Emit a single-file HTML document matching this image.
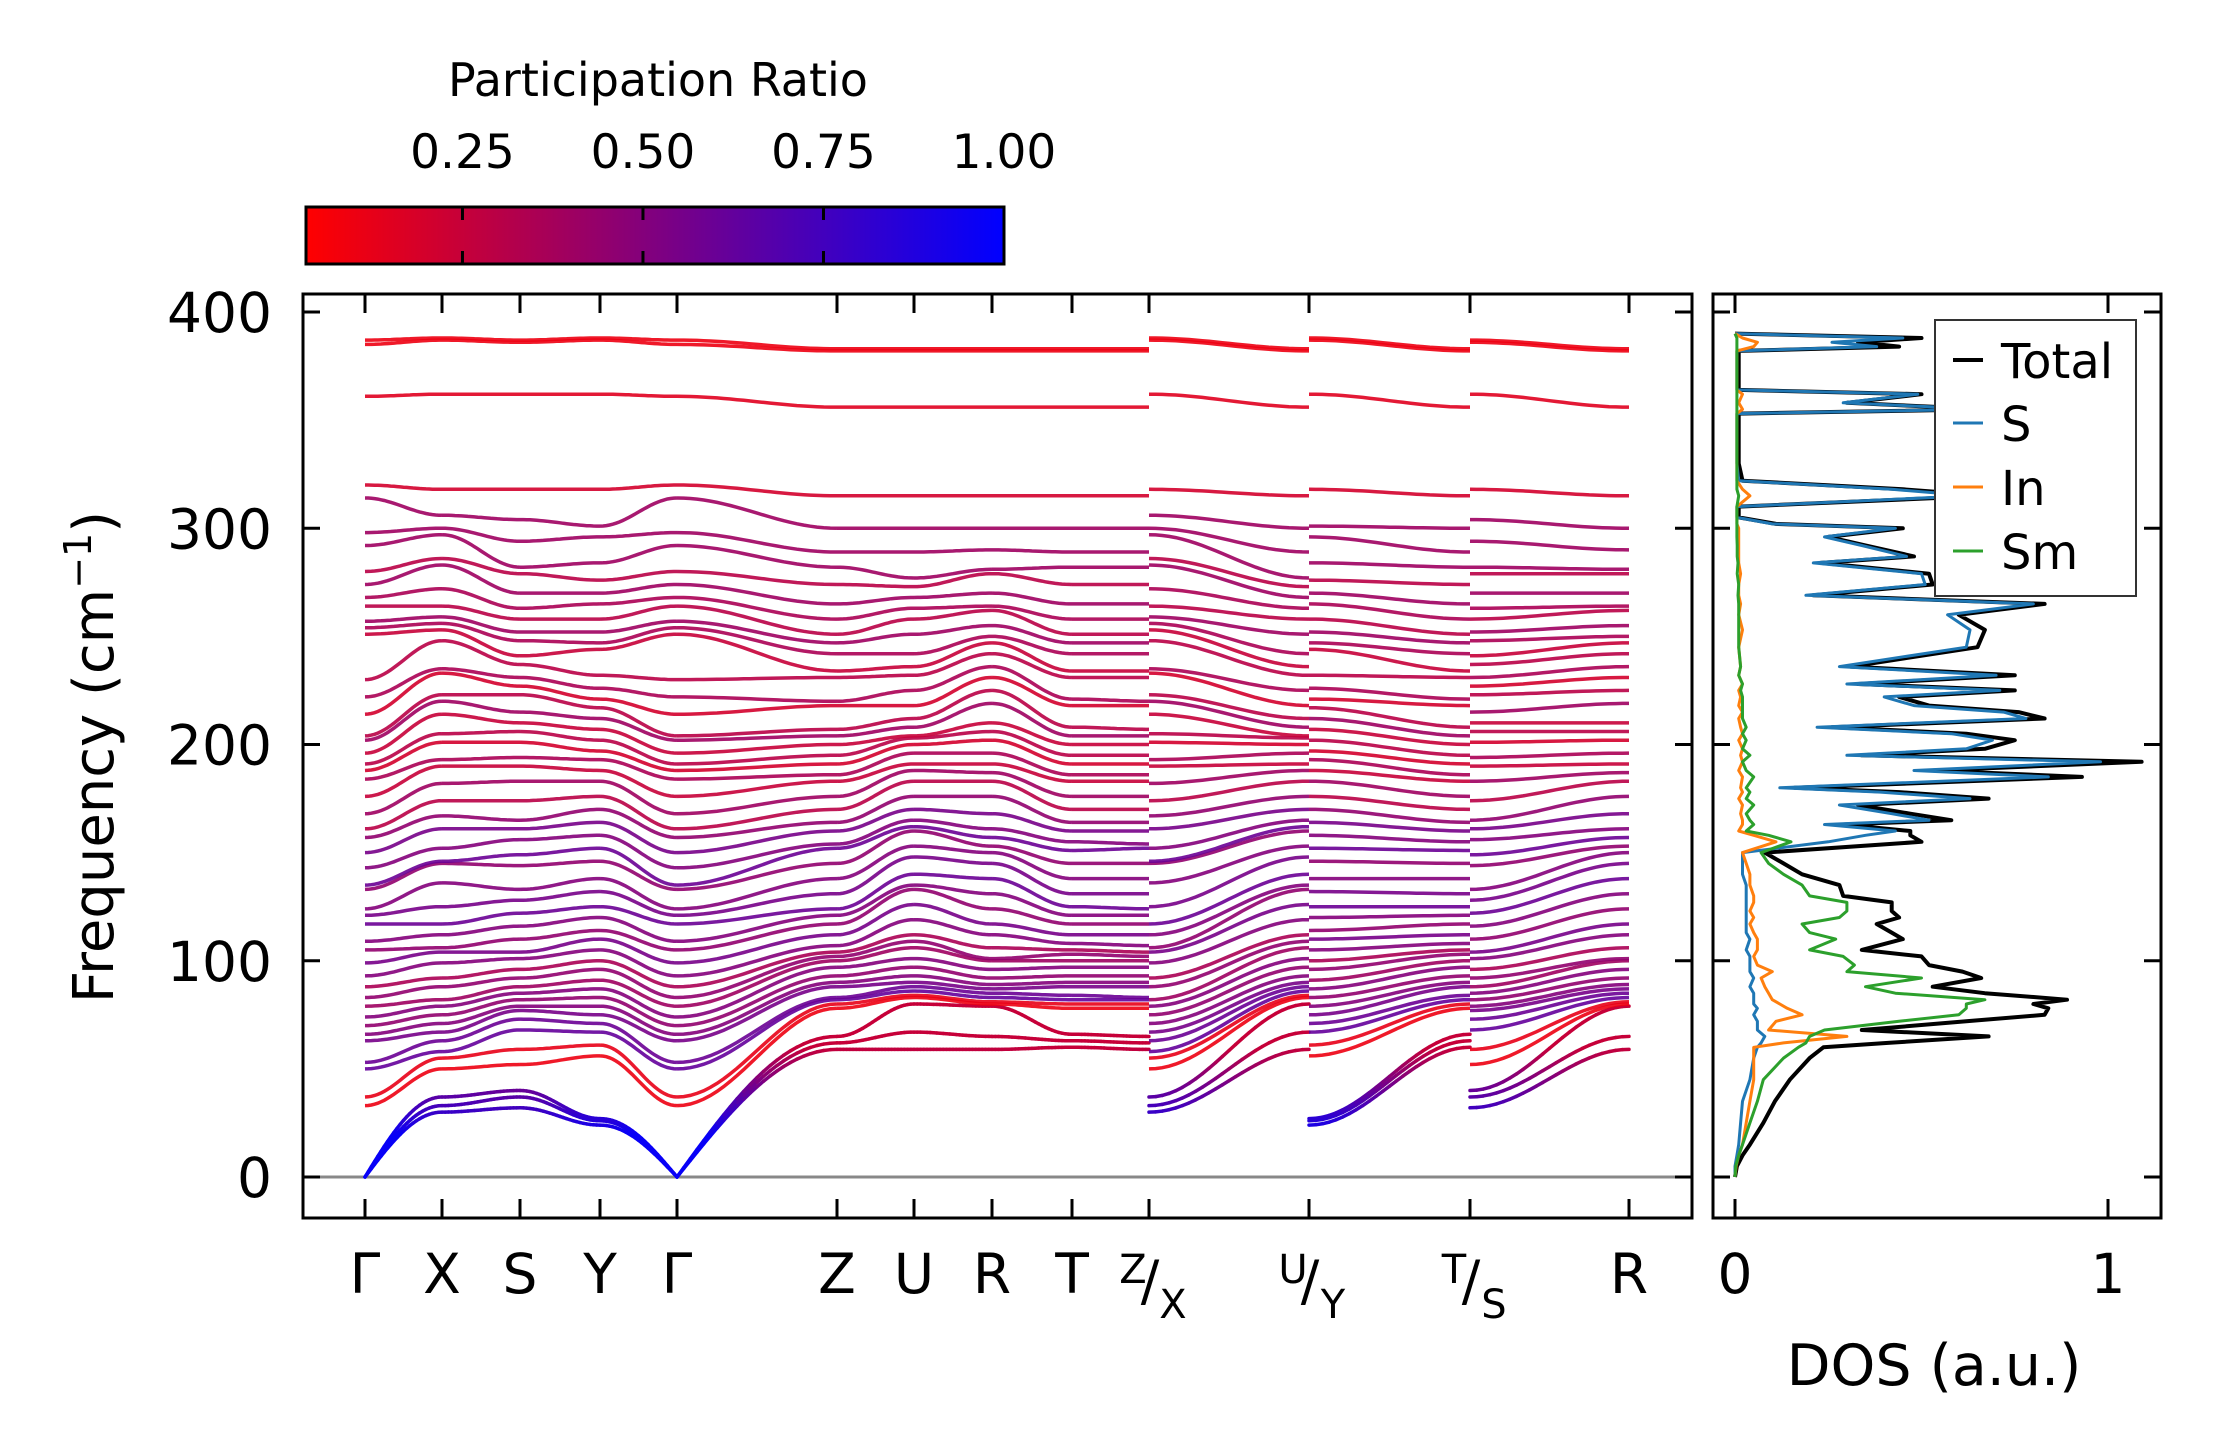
<!DOCTYPE html>
<html><head><meta charset="utf-8"><style>
html,body{margin:0;padding:0;background:#fff}
svg{display:block;font-family:"DejaVu Sans","Liberation Sans",sans-serif}
</style></head><body>
<svg id="chart" width="2222" height="1455" viewBox="0 0 2222 1455" xmlns="http://www.w3.org/2000/svg">
<defs>
<linearGradient id="cbgrad" x1="0" x2="1" y1="0" y2="0">
<stop offset="0" stop-color="rgb(255,0,0)"/><stop offset="1" stop-color="rgb(0,0,255)"/>
</linearGradient>
<clipPath id="mainclip"><rect x="303" y="294" width="1389" height="924"/></clipPath>
<clipPath id="dosclip"><rect x="1713" y="294" width="448" height="924"/></clipPath>
</defs>
<g>
<text x="658" y="96" font-size="46" text-anchor="middle">Participation Ratio</text>
<rect x="306" y="207" width="698" height="57" fill="url(#cbgrad)" stroke="#000" stroke-width="3"/>
<g id="cbticks"></g>
</g>
<g id="mainplot">
<line x1="303" x2="1692" y1="1177" y2="1177" stroke="#888" stroke-width="3"/>
<g id="bands" clip-path="url(#mainclip)"></g>
<rect x="303" y="294" width="1389" height="924" fill="none" stroke="#000" stroke-width="3"/>
<g id="mainticks"></g>
<text transform="translate(113,757) rotate(-90)" font-size="56" text-anchor="middle">Frequency (cm<tspan dy="-22" font-size="38">−1</tspan><tspan dy="22">)</tspan></text>
</g>
<g id="dosplot">
<g id="dosg" clip-path="url(#dosclip)"></g>
<rect x="1713" y="294" width="448" height="924" fill="none" stroke="#000" stroke-width="3"/>
<g id="dosticks"></g>
<text x="1934" y="1385" font-size="57" text-anchor="middle">DOS (a.u.)</text>
<g>
<rect x="1935" y="320" width="201" height="276" fill="#fff" stroke="#333" stroke-width="2"/>
<line x1="1953" x2="1983" y1="360" y2="360" stroke="#000" stroke-width="4"/>
<text x="2001" y="378" font-size="48">Total</text>
<line x1="1953" x2="1983" y1="423" y2="423" stroke="#1f77b4" stroke-width="3"/>
<text x="2001" y="441" font-size="48">S</text>
<line x1="1953" x2="1983" y1="487" y2="487" stroke="#ff7f0e" stroke-width="3"/>
<text x="2001" y="505" font-size="48">In</text>
<line x1="1953" x2="1983" y1="551" y2="551" stroke="#2ca02c" stroke-width="3"/>
<text x="2001" y="569" font-size="48">Sm</text>
</g>
</g>
</svg>
<script>
// ---- colorbar data
const cbTicks = [0.25, 0.5, 0.75, 1.0];
const cbLabels = ["0.25", "0.50", "0.75", "1.00"];
// ---- y axis
const yTicks = [0, 100, 200, 300, 400];
// ---- high-symmetry path (reciprocal distance)
const kLabels = ["Γ","X","S","Y","Γ","Z","U","R","T","Z|X","U|Y","T|S","R"];
const kDist = [0, 0.77, 1.55, 2.35, 3.12, 4.72, 5.49, 6.27, 7.07, 7.84, 9.44, 11.05, 12.64];
// segments: [fromKnot, toKnot, kStartIndex, kEndIndex]
const segments = [["G","X",0,1],["X","S",1,2],["S","Y",2,3],["Y","G",3,4],["G","Z",4,5],["Z","U",5,6],["U","R",6,7],["R","T",7,8],["T","Z",8,9],["X","U",9,10],["Y","T",10,11],["S","R",11,12]];
// ---- band frequencies (cm^-1) at each high-symmetry point, sorted
const freqG = [0,0,0,33,37,50,53,63,66,70,74,79,83,88,93,99,105,109,117,121,124,133,135,143,150,157,161,168,176,184,188,191,196,202,204,214,222,230,251,254,257,264,268,274,280,292,298,314,320,361,385,387];
const freqX = [30,33,37,50,55,58,63,67,71,75,79,82,88,92,99,104,106,112,117,125,136,145,146,152,161,167,174,182,190,193,201,205,214,220,223,233,235,248,253,256,259,264,272,283,286,297,300,306,318,362,387,388];
const freqS = [32,37,40,52,59,68,73,77,79,82,85,88,92,96,101,104,110,116,122,128,133,144,149,156,161,165,174,183,190,194,201,206,210,215,223,227,231,237,241,248,252,258,263,270,279,282,294,304,318,362,386,387];
const freqY = [24,26,27,56,61,67,71,75,79,83,87,91,96,100,105,110,114,120,125,132,138,146,152,158,164,170,176,183,188,193,197,202,207,212,217,221,226,232,244,247,252,258,265,270,276,284,296,301,318,362,387,388];
const freqZ = [59,62,65,78,80,82,83,88,90,93,97,100,102,104,107,112,117,121,124,131,138,145,152,154,160,164,170,176,183,186,191,195,200,204,207,218,220,231,234,242,247,251,258,265,274,282,289,300,315,356,382,383];
const freqU = [59,67,80,83,84,86,88,90,93,97,101,106,109,112,119,126,133,135,140,148,153,160,162,165,170,176,183,188,191,196,200,203,204,208,212,218,225,232,236,242,251,258,263,268,273,277,289,300,315,356,382,383];
const freqR = [59,65,79,80,81,83,85,87,89,92,96,100,101,106,112,117,124,131,138,145,150,153,157,161,168,176,183,187,191,196,202,206,210,219,225,231,236,242,247,250,255,262,264,270,279,281,290,300,315,356,382,383];
const freqT = [60,63,66,78,80,82,84,88,90,93,97,100,103,105,108,112,117,121,125,131,138,145,151,155,160,164,170,176,183,186,191,195,200,204,208,218,221,231,234,242,247,251,258,265,274,282,289,300,315,356,382,383];
// participation ratio per band
const prBand = [0.97,0.97,0.97,0.1,0.12,
0.62,0.6,0.55,0.5,0.45,0.5,0.4,0.45,0.35,0.5,0.55,0.45,0.5,0.6,0.55,0.5,0.45,0.6,0.5,0.55,0.45,
0.3,0.4,0.25,0.35,0.2,0.3,0.25,0.4,0.3,0.2,0.35,0.3,0.25,0.35,0.4,0.3,0.35,0.4,0.3,0.4,
0.4,0.4,0.2,0.15,0.1,0.1];
// ---- DOS data
const dosFreq = [0,5,10,15,25,35,45,55,60,62,
65,68,72,75,78,80,82,85,88,92,
95,98,102,105,110,113,117,120,123,127,
130,135,140,145,150,155,158,160,163,165,
168,172,175,178,180,185,188,192,195,198,
202,205,208,212,215,218,222,225,228,232,
236,245,253,260,265,269,274,279,284,287,
292,296,300,302,305,310,315,318,322,330,
350,353,355,358,362,364,375,382,384,386,
388,390];
const dosTotal = [0,0.005,0.02,0.04,0.076,0.107,0.147,0.2,0.237,0.41,
0.68,0.34,0.62,0.83,0.84,0.8,0.89,0.67,0.53,0.66,
0.61,0.52,0.5,0.34,0.45,0.42,0.38,0.44,0.42,0.42,
0.29,0.28,0.18,0.13,0.08,0.5,0.47,0.47,0.29,0.58,
0.47,0.33,0.68,0.44,0.16,0.93,0.53,1.09,0.34,0.67,
0.75,0.62,0.26,0.83,0.76,0.52,0.44,0.75,0.33,0.75,
0.31,0.65,0.67,0.6,0.83,0.21,0.53,0.52,0.23,0.48,
0.35,0.25,0.45,0.11,0.01,0.01,0.68,0.45,0.02,0.01,
0.01,0.01,0.68,0.3,0.5,0.01,0.01,0.01,0.44,0.33,
0.5,0];
const dosSm = [0,0.002,0.01,0.02,0.04,0.06,0.076,0.13,0.17,0.19,
0.2,0.24,0.44,0.6,0.62,0.62,0.67,0.43,0.35,0.5,
0.3,0.32,0.29,0.2,0.27,0.2,0.18,0.28,0.3,0.3,
0.2,0.18,0.13,0.09,0.07,0.15,0.09,0.03,0.05,0.04,
0.03,0.05,0.03,0.04,0.03,0.05,0.03,0.02,0.04,0.02,
0.03,0.02,0.03,0.02,0.02,0.02,0.02,0.015,0.02,0.01,
0.015,0.01,0.01,0.01,0.01,0.008,0.01,0.006,0.008,0.006,
0.006,0.005,0.005,0.005,0.005,0.005,0.01,0.005,0.005,0.005,
0.005,0.005,0.005,0.005,0.005,0.005,0.005,0.005,0.005,0.005,
0.005,0];
const dosIn = [0,0.003,0.01,0.02,0.03,0.04,0.05,0.05,0.05,0.13,
0.3,0.09,0.11,0.18,0.14,0.12,0.1,0.09,0.08,0.07,
0.1,0.06,0.05,0.06,0.06,0.05,0.04,0.05,0.04,0.05,
0.05,0.04,0.04,0.03,0.02,0.11,0.05,0.01,0.02,0.02,
0.015,0.02,0.01,0.02,0.015,0.02,0.01,0.02,0.015,0.02,
0.01,0.02,0.015,0.01,0.02,0.01,0.015,0.01,0.02,0.01,
0.015,0.01,0.02,0.01,0.015,0.01,0.01,0.015,0.01,0.01,
0.01,0.01,0.01,0.005,0.005,0.005,0.04,0.02,0.005,0.005,
0.005,0.005,0.02,0.01,0.02,0.005,0.005,0.005,0.05,0.06,
0.02,0];
const dosS = [0,0,0.005,0.01,0.015,0.02,0.04,0.05,0.06,0.07,
0.08,0.06,0.06,0.05,0.06,0.05,0.05,0.05,0.04,0.05,
0.04,0.04,0.04,0.03,0.04,0.03,0.03,0.03,0.03,0.03,
0.03,0.03,0.02,0.02,0.02,0.25,0.35,0.43,0.24,0.52,
0.42,0.28,0.63,0.39,0.12,0.84,0.48,0.98,0.3,0.62,
0.69,0.58,0.22,0.78,0.72,0.48,0.4,0.71,0.3,0.7,
0.28,0.62,0.63,0.57,0.8,0.19,0.51,0.5,0.21,0.46,
0.34,0.24,0.43,0.1,0.005,0.005,0.63,0.42,0.01,0.005,
0.005,0.005,0.67,0.29,0.49,0.005,0.005,0.005,0.38,0.26,
0.45,0];

const NS = "http://www.w3.org/2000/svg";
const knots = {G:freqG, X:freqX, S:freqS, Y:freqY, Z:freqZ, U:freqU, R:freqR, T:freqT};
const yScale = f => 1177 - f * (1177 - 312) / 400;
const xScale = k => 365 + (k - kDist[0]) * (1629 - 365) / (kDist[kDist.length-1] - kDist[0]);
const cbScale = p => 306 + (p - 0.0333) * (1004 - 306) / (1 - 0.0333);
const dosX = d => 1735 + d * (2108 - 1735);
function prColor(p){
  let t = (p - 0.0333) / (1 - 0.0333); t = Math.max(0, Math.min(1, t));
  return "rgb(" + Math.round(255*(1-t)) + ",0," + Math.round(255*t) + ")";
}
function mk(tag, attrs, parent){
  const el = document.createElementNS(NS, tag);
  for (const k in attrs) el.setAttribute(k, attrs[k]);
  parent.appendChild(el); return el;
}
function interp(a, b, t){
  let s;
  if (a === 0 && b !== 0) s = Math.sin(t*Math.PI/2);
  else if (b === 0 && a !== 0) s = 1 - Math.cos(t*Math.PI/2);
  else s = (1 - Math.cos(t*Math.PI)) / 2;
  return a + (b - a) * s;
}

// colorbar ticks
const cbt = document.getElementById("cbticks");
cbTicks.forEach((p, i) => {
  const x = cbScale(p);
  if (p < 0.99) {
    const t1 = mk("line", {x1:x, x2:x, y1:207, y2:220, stroke:"#000", "stroke-width":3}, cbt);
    
    
    const t2 = mk("line", {x1:x, x2:x, y1:251, y2:264, stroke:"#000", "stroke-width":3}, cbt);
    
    
  }
  const tx = mk("text", {x:x, y:168, "font-size":47, "text-anchor":"middle"}, cbt);
  
  
  tx.textContent = cbLabels[i];
});

// main ticks
const mt = document.getElementById("mainticks");
yTicks.forEach(v => {
  const y = yScale(v);
  const a = mk("line", {x1:303, x2:320, y1:y, y2:y, stroke:"#000", "stroke-width":3}, mt);
  
  
  const b = mk("line", {x1:1675, x2:1692, y1:y, y2:y, stroke:"#000", "stroke-width":3}, mt);
  
  
  const t = mk("text", {x:272, y:y+20, "font-size":55, "text-anchor":"end"}, mt);
  
  
  t.textContent = v;
});
kDist.forEach((k, i) => {
  const x = xScale(k);
  const a = mk("line", {x1:x, x2:x, y1:294, y2:313, stroke:"#000", "stroke-width":3}, mt);
  
  
  const b = mk("line", {x1:x, x2:x, y1:1199, y2:1218, stroke:"#000", "stroke-width":3}, mt);
  
  
  const lab = kLabels[i];
  if (lab.indexOf("|") >= 0) {
    const parts = lab.split("|");
    const g = mk("g", {}, mt);
    
    
    mk("text", {x:x-16, y:1283, "font-size":40, "text-anchor":"middle"}, g).textContent = parts[0];
    mk("text", {x:x+1, y:1300, "font-size":55, "text-anchor":"middle"}, g).textContent = "/";
    mk("text", {x:x+24, y:1318, "font-size":40, "text-anchor":"middle"}, g).textContent = parts[1];
  } else {
    const t = mk("text", {x:x, y:1293, "font-size":55, "text-anchor":"middle"}, mt);
    
    
    t.textContent = lab;
  }
});

// bands
const bg = document.getElementById("bands");
const nb = freqG.length;
for (let i = 0; i < nb; i++) {
  segments.forEach(seg => {
    const A = knots[seg[0]][i], B = knots[seg[1]][i];
    if (A === undefined || B === undefined) return;
    const x0 = xScale(kDist[seg[2]]), x1 = xScale(kDist[seg[3]]);
    const N = 24;
    if (i < 3) {
      for (let j = 0; j < N; j++) {
        const fa = interp(A, B, j/N), fb = interp(A, B, (j+1)/N);
        const fm = (fa + fb) / 2;
        const p = fm < 20 ? 0.97 : Math.max(0.25, 0.97 - (fm - 20) * 0.018);
        const l = mk("line", {x1:x0+(x1-x0)*j/N, y1:yScale(fa), x2:x0+(x1-x0)*(j+1)/N, y2:yScale(fb), stroke:prColor(p), "stroke-width":3.5, "stroke-linecap":"round"}, bg);
        
        
      }
    } else {
      let d = "";
      for (let j = 0; j <= N; j++) {
        const f = interp(A, B, j/N);
        d += (j ? "L" : "M") + (x0+(x1-x0)*j/N).toFixed(1) + "," + yScale(f).toFixed(1);
      }
      const pth = mk("path", {d:d, fill:"none", stroke:prColor(prBand[i]), "stroke-width":3.5, "stroke-opacity":0.9}, bg);
      
      
    }
  });
}

// DOS ticks
const dt = document.getElementById("dosticks");
yTicks.forEach(v => {
  const y = yScale(v);
  const a = mk("line", {x1:1713, x2:1730, y1:y, y2:y, stroke:"#000", "stroke-width":3}, dt);
  
  
  const b = mk("line", {x1:2144, x2:2161, y1:y, y2:y, stroke:"#000", "stroke-width":3}, dt);
  
  
});
[0, 1].forEach(v => {
  const x = dosX(v);
  const a = mk("line", {x1:x, x2:x, y1:294, y2:313, stroke:"#000", "stroke-width":3}, dt);
  
  
  const b = mk("line", {x1:x, x2:x, y1:1199, y2:1218, stroke:"#000", "stroke-width":3}, dt);
  
  
  const t = mk("text", {x:x, y:1293, "font-size":55, "text-anchor":"middle"}, dt);
  
  
  t.textContent = v;
});

// DOS curves
const dg = document.getElementById("dosg");
function dosPath(vals, color, w, name){
  let d = "";
  const n = Math.min(vals.length, dosFreq.length);
  for (let i = 0; i < n; i++) d += (i ? "L" : "M") + dosX(vals[i]).toFixed(1) + "," + yScale(dosFreq[i]).toFixed(1);
  const p = mk("path", {d:d, fill:"none", stroke:color, "stroke-width":w, "stroke-linejoin":"round"}, dg);
  
  
}
dosPath(dosTotal, "#000", 4, "dos-total-line");
dosPath(dosS, "#1f77b4", 3, "dos-s-line");
dosPath(dosIn, "#ff7f0e", 3, "dos-in-line");
dosPath(dosSm, "#2ca02c", 3, "dos-sm-line");
</script>
</body></html>
